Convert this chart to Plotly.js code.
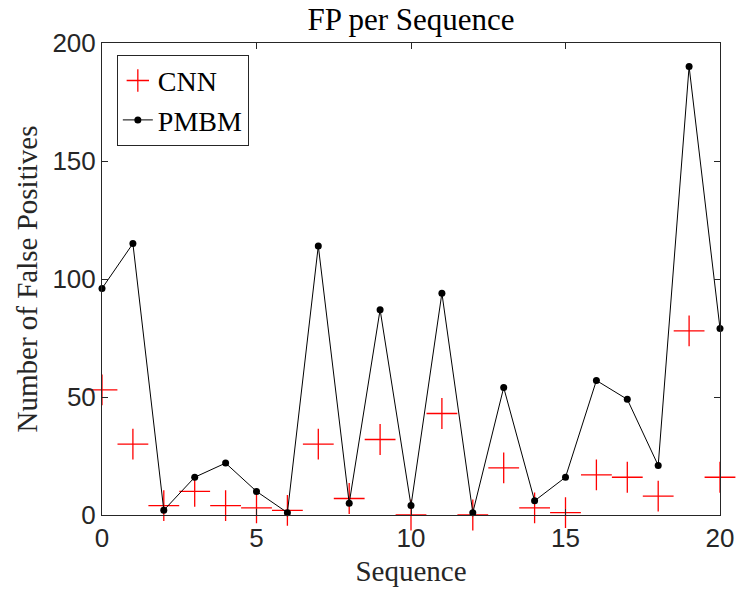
<!DOCTYPE html>
<html><head><meta charset="utf-8">
<script src="https://cdn.plot.ly/plotly-3.0.1.min.js"></script>
<style>html,body{margin:0;padding:0;background:#fff}#chart{width:737px;height:589px}</style>
</head><body><div id="chart"></div>
<script>
const sequences = [0,1,2,3,4,5,6,7,8,9,10,11,12,13,14,15,16,17,18,19,20];
const cnnFP = [53,30,4,10,4,3,2,30,7,32,0,43,0,20,3,1,17,16,8,78,16];
const pmbmFP = [96,115,2,16,22,10,1,114,5,87,4,94,1,54,6,16,57,49,21,190,79];
const xTicks = [0,5,10,15,20];
const yTicks = [0,50,100,150,200];

const serif = "Liberation Serif, Times New Roman, serif";
const sans = "Liberation Sans, Arial, sans-serif";
const axisColor = "#262626";

const traces = [
  {x: sequences, y: cnnFP, name: "CNN", mode: "markers", type: "scatter",
   marker: {symbol: "cross-thin-open", size: 22, color: "#ff0000", line: {color: "#ff0000", width: 1.3}},
   cliponaxis: false},
  {x: sequences, y: pmbmFP, name: "PMBM", mode: "lines+markers", type: "scatter",
   line: {color: "#000000", width: 1},
   marker: {symbol: "circle", size: 7, color: "#000000"},
   cliponaxis: false}
];

const axisCommon = {
  showgrid: false, zeroline: false, showline: true, linecolor: axisColor, linewidth: 1,
  mirror: "ticks", ticks: "inside", ticklen: 6, tickcolor: axisColor, tickwidth: 1,
  tickfont: {family: sans, size: 26, color: axisColor}
};

const layout = {
  width: 737, height: 589,
  margin: {l: 102, r: 17, t: 43, b: 74},
  paper_bgcolor: "#fff", plot_bgcolor: "#fff",
  title: {text: "FP per Sequence", font: {family: serif, size: 31, color: "#000"}, x: 0.5, xref: "paper", y: 0.968, yanchor: "middle"},
  xaxis: Object.assign({}, axisCommon, {range: [0, 20], tickvals: xTicks, ticktext: xTicks.map(String),
    title: {text: "Sequence", font: {family: serif, size: 29, color: axisColor}, standoff: 8}}),
  yaxis: Object.assign({}, axisCommon, {range: [0, 200], tickvals: yTicks, ticktext: yTicks.map(String),
    title: {text: "Number of False Positives", font: {family: serif, size: 29, color: axisColor}, standoff: 6}}),
  showlegend: true,
  legend: {x: 0.024, y: 0.975, xanchor: "left", yanchor: "top", bgcolor: "#fff",
    bordercolor: axisColor, borderwidth: 1, font: {family: serif, size: 28, color: "#000"},
    tracegroupgap: 0, itemwidth: 30}
};

Plotly.newPlot("chart", traces, layout, {displayModeBar: false, staticPlot: true});
</script></body></html>
